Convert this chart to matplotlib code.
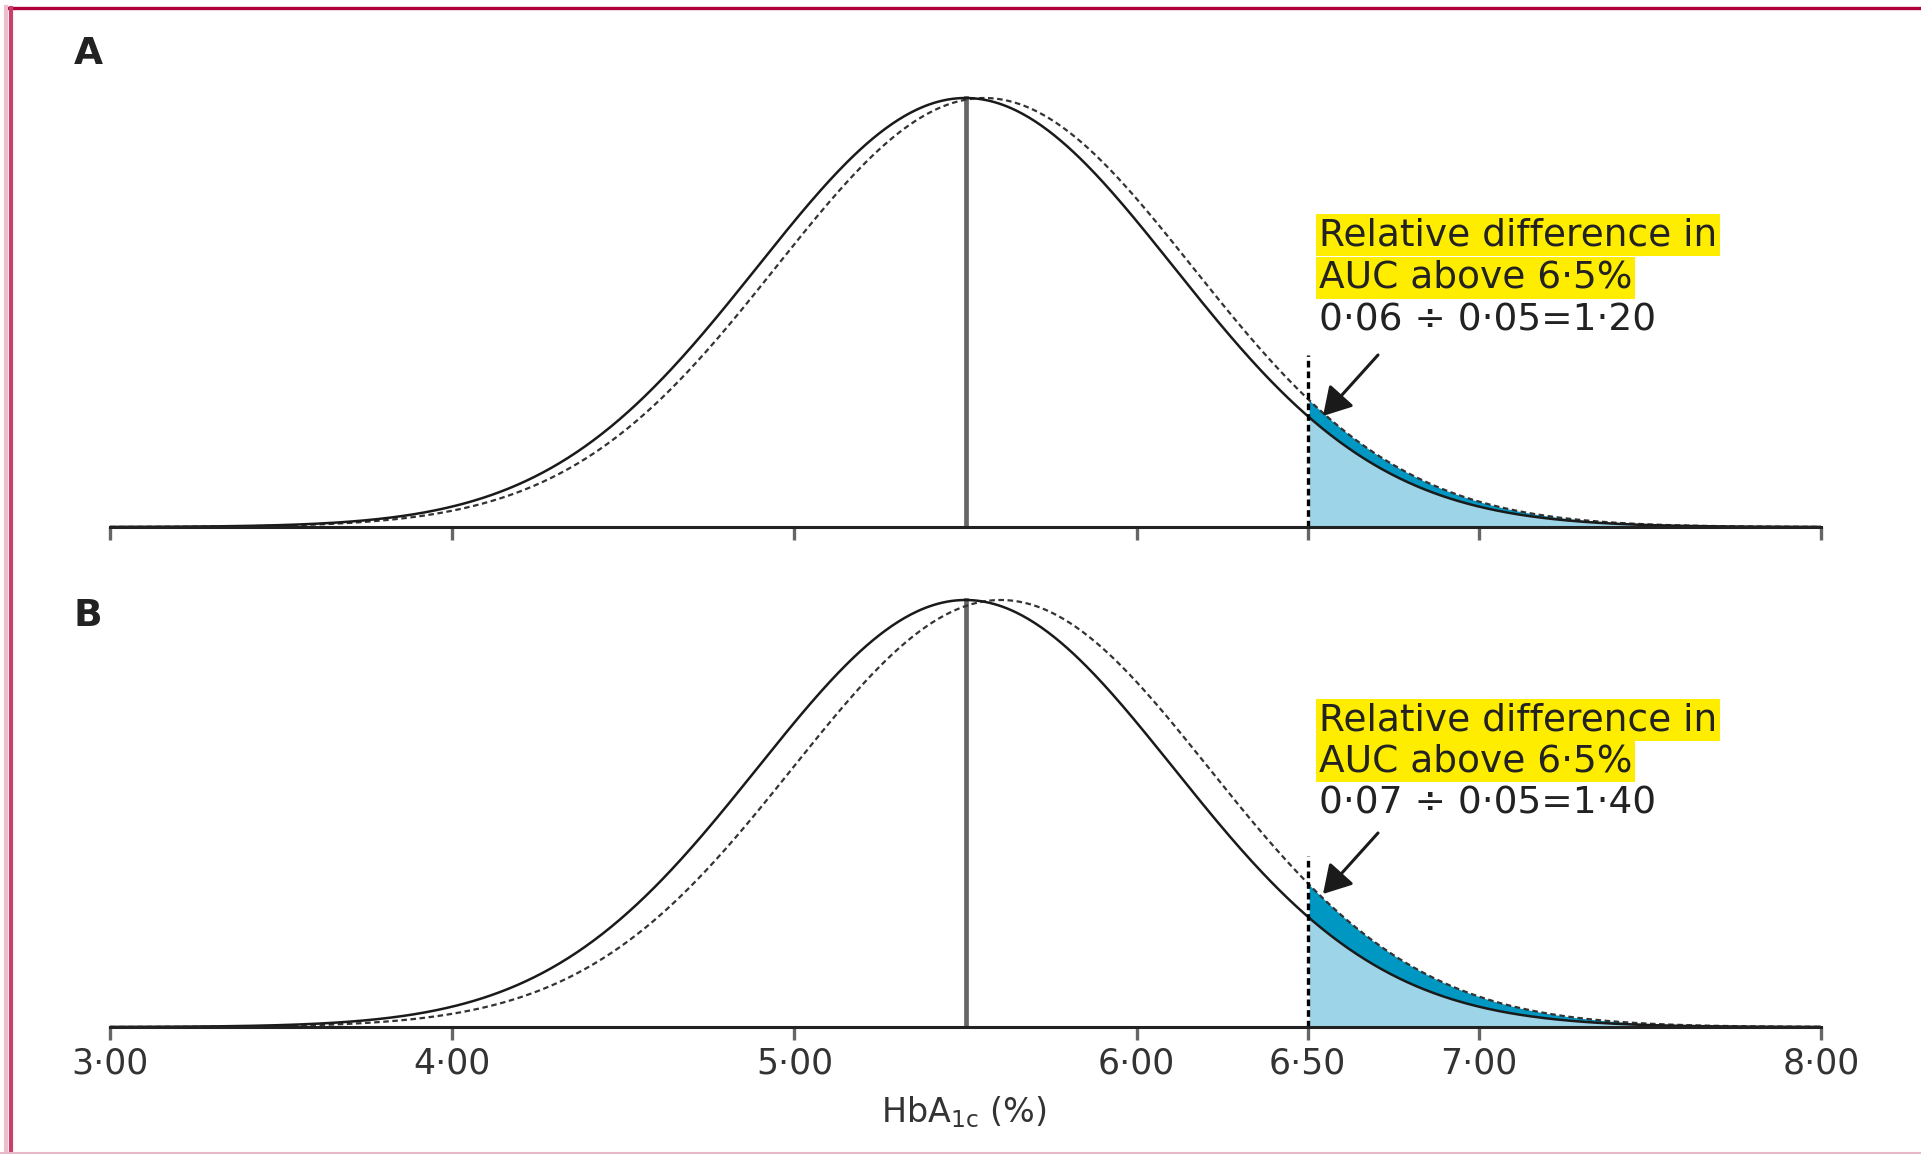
import numpy as np
import matplotlib.pyplot as plt
from matplotlib.lines import Line2D

# HbA1c distributions (normal curves), values in %
mean_solid = 5.5
sd = 0.608
mean_dashed = [5.555, 5.603]          # panel A, panel B
cutoff = 6.5
panels = ['A', 'B']
auc_lines = ['Relative difference in', 'AUC above 6·5%']
auc_ratio = ['0·06 ÷ 0·05=1·20', '0·07 ÷ 0·05=1·40']
xticks = [3, 4, 5, 6, 6.5, 7, 8]
xticklabels = ['3·00', '4·00', '5·00', '6·00', '6·50', '7·00', '8·00']

light_blue = '#9dd4e7'
dark_blue = '#0098c2'
yellow = '#ffed00'


def normal_pdf(x, mu, s):
    return np.exp(-0.5 * ((x - mu) / s) ** 2) / (s * np.sqrt(2 * np.pi))


W, H = 1921, 1154
fig = plt.figure(figsize=(W / 100, H / 100), dpi=100)

x = np.linspace(3, 8, 800)
peak = normal_pdf(mean_solid, mean_solid, sd)

# axis baseline / peak pixel rows for each panel
base_px = [527, 1027]
peak_px = [98, 600]
text_rows = [[235, 278, 321], [720, 761, 804]]
arrow_px = [[(1378, 355), (1323, 416)], [(1378, 833), (1323, 894)]]
left_px, right_px = 110, 1821

for i, name in enumerate(panels):
    bottom = 1 - base_px[i] / H
    top = 1 - peak_px[i] / H
    h = (top - bottom) * 1.1
    ax = fig.add_axes([left_px / W, bottom, (right_px - left_px) / W, h])
    ax.set_xlim(3, 8)
    ax.set_ylim(0, peak * 1.1)
    px_per_y = (base_px[i] - peak_px[i]) / peak

    def to_y(py):
        return (base_px[i] - py) / px_per_y

    def to_x(px):
        return 3 + (px - left_px) / (right_px - left_px) * 5

    solid = normal_pdf(x, mean_solid, sd)
    dashed = normal_pdf(x, mean_dashed[i], sd)
    m = x >= cutoff
    ax.fill_between(x[m], 0, solid[m], color=light_blue, lw=0, zorder=1)
    ax.fill_between(x[m], solid[m], dashed[m], color=dark_blue, lw=0, zorder=1)

    ax.plot(x, dashed, color='#333333', lw=1.6, ls=(0, (2.5, 1.6)), zorder=3)
    ax.plot(x, solid, color='#1a1a1a', lw=1.8, zorder=4)
    ax.plot([mean_solid, mean_solid], [0, peak], color='#666666', lw=3.4, zorder=2)
    ax.plot([cutoff, cutoff], [0, peak * 0.40], color='black', lw=2.4,
            ls=(0, (2, 1.2)), zorder=5)

    (sx, sy), (tx, ty) = arrow_px[i]
    ax.annotate('', xy=(to_x(tx), to_y(ty)), xytext=(to_x(sx), to_y(sy)),
                arrowprops=dict(arrowstyle='-|>,head_length=0.85,head_width=0.5',
                                color='#1a1a1a', lw=2.2, mutation_scale=20,
                                shrinkA=0, shrinkB=0), zorder=6)

    for j, txt in enumerate(auc_lines + [auc_ratio[i]]):
        kw = {}
        if j < 2:
            kw['bbox'] = dict(boxstyle='square,pad=0.07', fc=yellow, ec='none')
        ax.text(to_x(1319), to_y(text_rows[i][j]), txt, ha='left', va='center',
                fontsize=27, color='#222222', zorder=7, **kw)

    for s in ['top', 'left', 'right']:
        ax.spines[s].set_visible(False)
    ax.spines['bottom'].set_linewidth(2.2)
    ax.spines['bottom'].set_color('#222222')
    ax.spines['bottom'].set_zorder(5)
    ax.set_yticks([])
    ax.set_xticks(xticks)
    ax.set_xticklabels(xticklabels)
    ax.tick_params(axis='x', direction='out', length=9, width=2.4, color='#666666',
                   labelsize=25, pad=5, labelcolor='#333333',
                   labelbottom=(i == 1))
    ax.patch.set_alpha(0)

    fig.text(88 / W, 1 - (54 if i == 0 else 616) / H, name, ha='center', va='center',
             fontsize=27, fontweight='bold', color='#222222')

fig.text(964 / W, 1 - 1112 / H, r'HbA$_{\mathrm{1c}}$ (%)', ha='center', va='center',
         fontsize=24, color='#333333')

# page border
fig.add_artist(Line2D([9 / W, 1], [1 - 8 / H, 1 - 8 / H], color='#b0003a', lw=2.4))
fig.add_artist(Line2D([6 / W, 6 / W], [0, 1 - 7 / H], color='#ebbfcc', lw=3))
fig.add_artist(Line2D([11 / W, 11 / W], [0, 1 - 8 / H], color='#c8406a', lw=3))
fig.add_artist(Line2D([0, 1], [1 / H, 1 / H], color='#e8b8c8', lw=1.5))

fig.savefig('out.png', dpi=100)
